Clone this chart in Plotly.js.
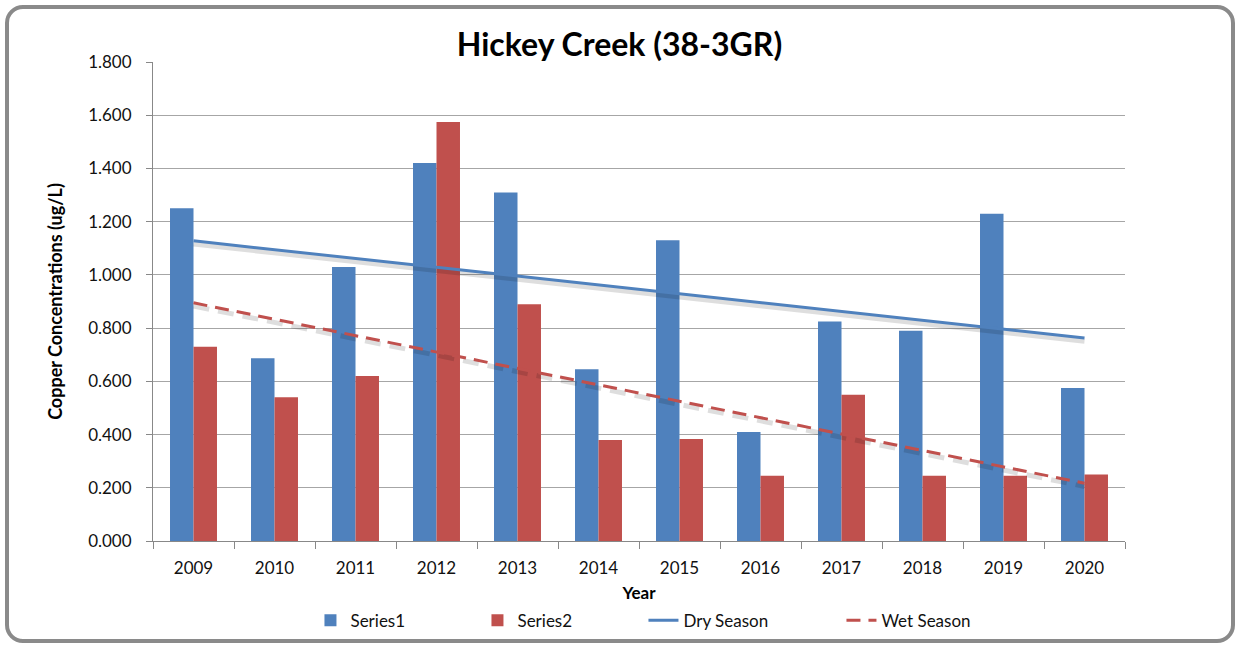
<!DOCTYPE html>
<html>
<head>
<meta charset="utf-8">
<script src="https://cdn.plot.ly/plotly-3.0.1.min.js"></script>
<style>
  html, body { margin: 0; padding: 0; background: #fff; }
  #wrap { position: relative; width: 1239px; height: 646px; }
  #chart { position: absolute; left: 0; top: 0; width: 1239px; height: 646px; }
  #frame { position: absolute; left: 5px; top: 5px; width: 1222px; height: 630px;
           border: 4px solid #8a8a8a; border-radius: 18px; pointer-events: none; }
</style>
</head>
<body>
<div id="wrap">
  <div id="chart"></div>
  <div id="frame"></div>
</div>
<script>
const years = ["2009","2010","2011","2012","2013","2014","2015","2016","2017","2018","2019","2020"];
const series1 = [1.250, 0.687, 1.030, 1.420, 1.310, 0.645, 1.130, 0.410, 0.825, 0.790, 1.230, 0.575];
const series2 = [0.730, 0.540, 0.620, 1.575, 0.890, 0.380, 0.383, 0.245, 0.550, 0.245, 0.245, 0.250];
const trendYears = ["2009", "2020"];
const dryTrend = [1.128, 0.763];
const wetTrend = [0.895, 0.217];

const blue = "#4F81BD";
const red = "#C0504D";
const font = "Lato, 'Open Sans', sans-serif";
const shadowOffset = 0.012;

const traces = [
  { type: "bar", name: "Series1", x: years, y: series1, marker: { color: blue }, legendwidth: 122 },
  { type: "bar", name: "Series2", x: years, y: series2, marker: { color: red }, legendwidth: 121 },
  { type: "scatter", mode: "lines", showlegend: false, hoverinfo: "skip", x: trendYears,
    y: dryTrend.map(v => v - shadowOffset), line: { color: "rgba(0,0,0,0.13)", width: 5 } },
  { type: "scatter", mode: "lines", name: "Dry Season", x: trendYears, y: dryTrend,
    line: { color: blue, width: 3 }, legendwidth: 153 },
  { type: "scatter", mode: "lines", showlegend: false, hoverinfo: "skip", x: trendYears,
    y: wetTrend.map(v => v - shadowOffset), line: { color: "rgba(0,0,0,0.13)", width: 5, dash: "16px,9px" } },
  { type: "scatter", mode: "lines", name: "Wet Season", x: trendYears, y: wetTrend,
    line: { color: red, width: 3, dash: "14px,8px" } }
];

const layout = {
  width: 1239, height: 646,
  margin: { l: 153, r: 114, t: 62, b: 105 },
  paper_bgcolor: "#fff", plot_bgcolor: "#fff",
  font: { family: font, color: "#111", size: 17 },
  title: { text: "<b>Hickey Creek (38-3GR)</b>", x: 0.5, xanchor: "center",
           y: 0.93, yanchor: "middle", font: { size: 32, family: font, color: "#000" } },
  barmode: "group", bargap: 0.42, bargroupgap: 0,
  xaxis: {
    type: "category", tickson: "boundaries", ticks: "outside", ticklen: 7, tickcolor: "#888",
    showline: true, linecolor: "#888", linewidth: 1, showgrid: false, automargin: false,
    ticklabelstandoff: 12,
    tickfont: { size: 17, family: font, color: "#111" },
    title: { text: "<b>Year</b>", font: { size: 17, family: font, color: "#000" }, standoff: 19 }
  },
  yaxis: {
    range: [0, 1.8], dtick: 0.2, tickformat: ".3f", ticks: "outside", ticklen: 6, tickcolor: "#888",
    showline: true, linecolor: "#888", linewidth: 1, automargin: false,
    ticklabelstandoff: 11,
    showgrid: true, gridcolor: "#a6a6a6", gridwidth: 1, zeroline: false,
    tickfont: { size: 17, family: font, color: "#111" },
    title: { text: "<b>Copper Concentrations (ug/L)</b>", font: { size: 18, family: font, color: "#000" }, standoff: 20 }
  },
  showlegend: true,
  legend: { orientation: "h", x: 0.162, xanchor: "left", yref: "container", y: 0.039, yanchor: "middle",
            font: { size: 17, family: font, color: "#111" }, traceorder: "normal" }
};

Plotly.newPlot("chart", traces, layout, { displayModeBar: false, staticPlot: true });
</script>
</body>
</html>
